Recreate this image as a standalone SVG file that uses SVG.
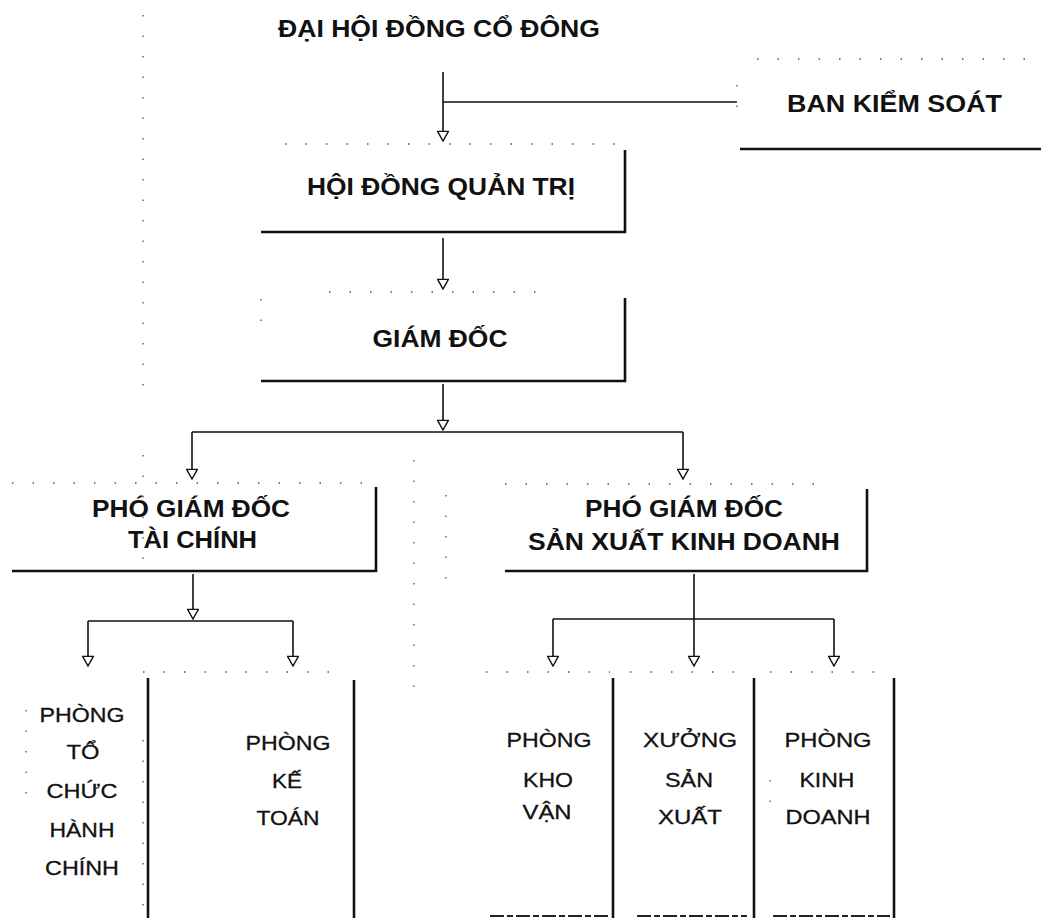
<svg xmlns="http://www.w3.org/2000/svg" width="1041" height="918" viewBox="0 0 1041 918">
<defs>
<style>
.bg{fill:#ffffff}
.t{font-family:"Liberation Sans",Arial,Helvetica,sans-serif;font-weight:bold;font-size:23px;fill:#111;text-anchor:middle}
.r{font-family:"Liberation Sans",Arial,Helvetica,sans-serif;font-weight:normal;font-size:21px;fill:#111;text-anchor:middle;stroke:#111;stroke-width:0.3}
.edge{fill:none;stroke:#111;stroke-width:2.6}
.dots{fill:none;stroke:#555;stroke-width:1.3;stroke-dasharray:1.5 19}
.conn{fill:none;stroke:#111;stroke-width:1.6}
.bot{fill:none;stroke:#222;stroke-width:2;stroke-dasharray:14 3 6 3}
</style>
<marker id="ah" markerUnits="userSpaceOnUse" markerWidth="12" markerHeight="12" viewBox="-9 -5 10 10" refX="0" refY="0" orient="auto">
<path d="M0,0 L-8,-4.5 L-8,4.5 Z" fill="#fff" stroke="#111" stroke-width="1.2"/>
</marker>
</defs>
<rect class="bg" x="0" y="0" width="1041" height="918"/>

<g id="noise">
<line class="dots" x1="143" y1="15" x2="143" y2="400"/>
<line class="dots" x1="143" y1="455" x2="143" y2="575"/>
<line class="dots" x1="414" y1="460" x2="414" y2="690"/>
<line class="dots" x1="446" y1="495" x2="446" y2="580"/>
</g>

<g id="node-dhdcd">
<text class="t" x="439" y="37" textLength="322" lengthAdjust="spacingAndGlyphs">ĐẠI HỘI ĐỒNG CỔ ĐÔNG</text>
</g>

<g id="node-bks">
<line class="dots" x1="757" y1="59" x2="1041" y2="59"/>
<line class="dots" x1="737" y1="85" x2="737" y2="125"/>
<line class="edge" x1="740" y1="149" x2="1041" y2="149"/>
<text class="t" x="894.5" y="112" textLength="215" lengthAdjust="spacingAndGlyphs">BAN KIỂM SOÁT</text>
</g>

<g id="node-hdqt">
<line class="dots" x1="285" y1="144" x2="622" y2="144"/>
<polyline class="edge" points="625,150 625,232 261,232"/>
<text class="t" x="441" y="195" textLength="268" lengthAdjust="spacingAndGlyphs">HỘI ĐỒNG QUẢN TRỊ</text>
</g>

<g id="node-gd">
<line class="dots" x1="329" y1="292" x2="545" y2="292"/>
<line class="dots" x1="261" y1="299" x2="261" y2="330"/>
<polyline class="edge" points="625,298 625,381 261,381"/>
<text class="t" x="440" y="347" textLength="135" lengthAdjust="spacingAndGlyphs">GIÁM ĐỐC</text>
</g>

<g id="node-pgd-tc">
<line class="dots" x1="12" y1="483" x2="372" y2="483"/>
<polyline class="edge" points="376,487 376,571 12,571"/>
<text class="t" x="191" y="517" textLength="198" lengthAdjust="spacingAndGlyphs">PHÓ GIÁM ĐỐC</text>
<text class="t" x="192.5" y="548" textLength="129" lengthAdjust="spacingAndGlyphs">TÀI CHÍNH</text>
</g>

<g id="node-pgd-sxkd">
<line class="dots" x1="505" y1="484" x2="830" y2="484"/>
<polyline class="edge" points="867,489 867,571 505,571"/>
<text class="t" x="684" y="517" textLength="198" lengthAdjust="spacingAndGlyphs">PHÓ GIÁM ĐỐC</text>
<text class="t" x="684" y="550" textLength="312" lengthAdjust="spacingAndGlyphs">SẢN XUẤT KINH DOANH</text>
</g>

<g id="node-tchc">
<line class="dots" x1="26" y1="710" x2="26" y2="800"/>
<line class="edge" x1="148" y1="678" x2="148" y2="918"/>
<text class="r" x="82" y="722" textLength="85" lengthAdjust="spacingAndGlyphs">PHÒNG</text>
<text class="r" x="83" y="759" textLength="33" lengthAdjust="spacingAndGlyphs">TỔ</text>
<text class="r" x="82" y="798" textLength="71" lengthAdjust="spacingAndGlyphs">CHỨC</text>
<text class="r" x="82" y="837" textLength="65" lengthAdjust="spacingAndGlyphs">HÀNH</text>
<text class="r" x="82" y="875" textLength="74" lengthAdjust="spacingAndGlyphs">CHÍNH</text>
</g>

<g id="node-kt">
<line class="dots" x1="143" y1="672" x2="340" y2="672"/>
<line class="dots" x1="143" y1="740" x2="143" y2="918"/>
<line class="edge" x1="354" y1="680" x2="354" y2="918"/>
<text class="r" x="288" y="750" textLength="85" lengthAdjust="spacingAndGlyphs">PHÒNG</text>
<text class="r" x="287" y="788" textLength="30" lengthAdjust="spacingAndGlyphs">KẾ</text>
<text class="r" x="288" y="825" textLength="63" lengthAdjust="spacingAndGlyphs">TOÁN</text>
</g>

<g id="node-khovan">
<line class="dots" x1="486" y1="672" x2="610" y2="672"/>
<line class="edge" x1="613" y1="678" x2="613" y2="918"/>
<line class="bot" x1="490" y1="916" x2="608" y2="916"/>
<text class="r" x="549" y="747" textLength="85" lengthAdjust="spacingAndGlyphs">PHÒNG</text>
<text class="r" x="548" y="787" textLength="50" lengthAdjust="spacingAndGlyphs">KHO</text>
<text class="r" x="547" y="819" textLength="49" lengthAdjust="spacingAndGlyphs">VẬN</text>
</g>

<g id="node-xuong">
<line class="dots" x1="630" y1="672" x2="751" y2="672"/>
<line class="edge" x1="754" y1="678" x2="754" y2="918"/>
<line class="bot" x1="637" y1="916" x2="747" y2="916"/>
<text class="r" x="690" y="747" textLength="94" lengthAdjust="spacingAndGlyphs">XƯỞNG</text>
<text class="r" x="689" y="787" textLength="48" lengthAdjust="spacingAndGlyphs">SẢN</text>
<text class="r" x="690" y="824" textLength="64" lengthAdjust="spacingAndGlyphs">XUẤT</text>
</g>

<g id="node-kd">
<line class="dots" x1="770" y1="672" x2="891" y2="672"/>
<line class="dots" x1="770" y1="780" x2="770" y2="810"/>
<line class="edge" x1="894" y1="678" x2="894" y2="918"/>
<line class="bot" x1="773" y1="916" x2="890" y2="916"/>
<text class="r" x="828" y="747" textLength="87" lengthAdjust="spacingAndGlyphs">PHÒNG</text>
<text class="r" x="827" y="787" textLength="55" lengthAdjust="spacingAndGlyphs">KINH</text>
<text class="r" x="828" y="824" textLength="85" lengthAdjust="spacingAndGlyphs">DOANH</text>
</g>

<g id="connectors">
<line class="conn" x1="443" y1="72" x2="443" y2="141" marker-end="url(#ah)"/>
<line class="conn" x1="443" y1="102" x2="737" y2="102"/>
<line class="conn" x1="443" y1="238" x2="443" y2="289" marker-end="url(#ah)"/>
<line class="conn" x1="443" y1="384" x2="443" y2="430" marker-end="url(#ah)"/>
<line class="conn" x1="192" y1="432" x2="683" y2="432"/>
<line class="conn" x1="192" y1="432" x2="192" y2="479" marker-end="url(#ah)"/>
<line class="conn" x1="683" y1="432" x2="683" y2="479" marker-end="url(#ah)"/>
<line class="conn" x1="193" y1="574" x2="193" y2="619" marker-end="url(#ah)"/>
<line class="conn" x1="88" y1="621" x2="293" y2="621"/>
<line class="conn" x1="88" y1="621" x2="88" y2="666" marker-end="url(#ah)"/>
<line class="conn" x1="293" y1="621" x2="293" y2="666" marker-end="url(#ah)"/>
<line class="conn" x1="694" y1="574" x2="694" y2="619"/>
<line class="conn" x1="553" y1="619" x2="834" y2="619"/>
<line class="conn" x1="553" y1="619" x2="553" y2="666" marker-end="url(#ah)"/>
<line class="conn" x1="694" y1="619" x2="694" y2="666" marker-end="url(#ah)"/>
<line class="conn" x1="834" y1="619" x2="834" y2="666" marker-end="url(#ah)"/>
</g>
</svg>
